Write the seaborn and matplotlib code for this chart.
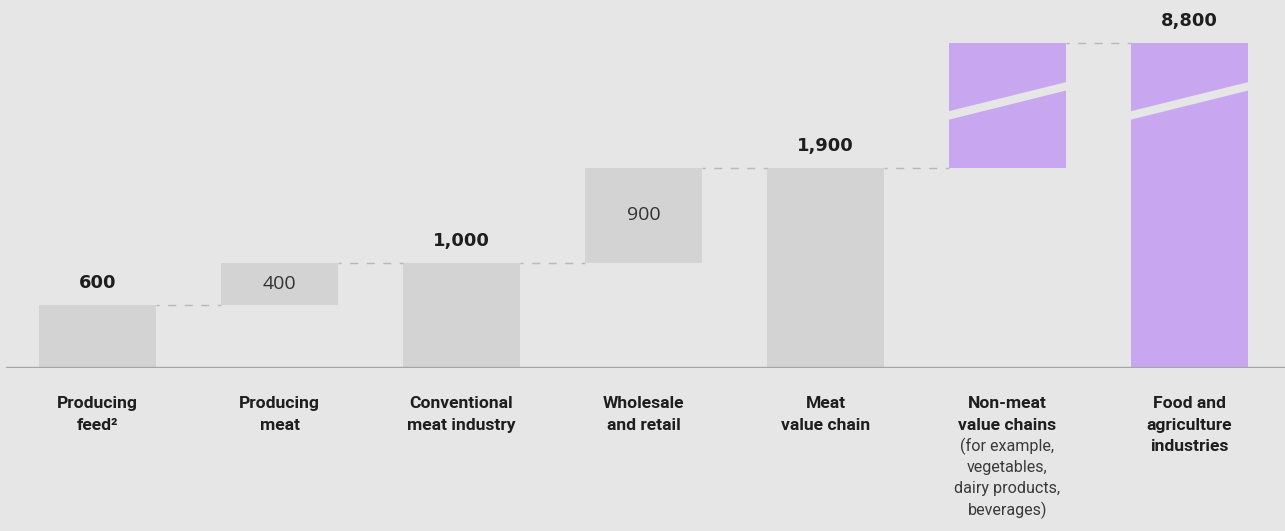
import numpy as np
import matplotlib
matplotlib.use("Agg")
import matplotlib.pyplot as plt
import seaborn as sns

# ---- data -------------------------------------------------------------
categories = [
    "Producing\nfeed²",
    "Producing\nmeat",
    "Conventional\nmeat industry",
    "Wholesale\nand retail",
    "Meat\nvalue chain",
    "Non-meat\nvalue chains",
    "Food and\nagriculture\nindustries",
]
values = [600, 400, 1000, 900, 1900, 6900, 8800]
is_total = [True, False, True, False, True, False, True]
value_labels = ["600", "400", "1,000", "900", "1,900", "", "8,800"]
sub_labels = ["", "", "", "", "", "(for example,\nvegetables,\ndairy products,\nbeverages)", ""]
highlight = [False, False, False, False, False, True, True]

# ---- style ------------------------------------------------------------
BG = "#e6e6e6"
GREY_BAR = "#d3d3d3"
PURPLE = "#c9a7f0"
BASE_LINE = "#a6a6a6"
DASH = "#b8b8b8"
TEXT = "#1e1e1e"

sns.set_theme(style="white")
plt.rcParams["font.family"] = ["DejaVu Sans"]

# waterfall bottoms
bottoms = []
running = 0
for v, tot in zip(values, is_total):
    if tot:
        bottoms.append(0)
        running = v
    else:
        bottoms.append(running)
        running += v
tops = [b + v for b, v in zip(bottoms, values)]

# broken value axis: linear up to T, compressed above
T = 2000.0
K = 0.159


def fwd(y):
    y = np.asarray(y, dtype=float)
    return np.where(y <= T, y, T + (y - T) * K)


def inv(d):
    d = np.asarray(d, dtype=float)
    return np.where(d <= T, d, T + (d - T) / K)


fig = plt.figure(figsize=(12.85, 5.31), dpi=100, facecolor=BG)
ax = fig.add_axes([6 / 1285, 163 / 531, 1279 / 1285, 348 / 531])
ax.set_facecolor(BG)

width = 0.643
sns.barplot(x=categories, y=values, bottom=bottoms, width=width,
            color=GREY_BAR, errorbar=None, ax=ax, linewidth=0,
            saturation=1)
for patch, hl in zip(ax.patches, highlight):
    patch.set_facecolor(PURPLE if hl else GREY_BAR)
    patch.set_edgecolor("none")

ax.set_yscale("function", functions=(fwd, inv))
ax.set_ylim(0, inv(3300))
ax.set_xlim(-0.503, 6.525)

# baseline
ax.axhline(0, color=BASE_LINE, lw=1.7, zorder=3)

# dashed connectors between neighbouring bars
for i in range(len(values) - 1):
    level = tops[i]
    ax.plot([i + width / 2, i + 1 - width / 2], [level, level],
            color=DASH, lw=1.0, linestyle=(3.5, (5.8, 6.1)), zorder=1)

# slanted break across the tall bars
d_lo_left, d_lo_right, gap = 2351, 2635, 80
for i, hl in enumerate(highlight):
    if not hl:
        continue
    x0, x1 = i - width / 2 - 0.01, i + width / 2 + 0.01
    poly = np.array([
        [x0, inv(d_lo_left)],
        [x1, inv(d_lo_right)],
        [x1, inv(d_lo_right + gap)],
        [x0, inv(d_lo_left + gap)],
    ])
    ax.fill(poly[:, 0], poly[:, 1], color=BG, lw=0, zorder=2)

# value labels
for i, (lab, tot) in enumerate(zip(value_labels, is_total)):
    if not lab:
        continue
    if tot:
        ax.annotate(lab, (i, tops[i]), xytext=(0, 15.8), textcoords="offset points",
                    ha="center", va="center", fontsize=12.9, fontweight="bold",
                    color=TEXT)
    else:
        mid = inv((fwd(bottoms[i]) + fwd(tops[i])) / 2)
        ax.annotate(lab, (i, mid), ha="center", va="center", fontsize=14,
                    family=["Open Sans", "DejaVu Sans"], color="#333333")

# category labels, one line at a time
PITCH = 15.3
for i, (cat, sub) in enumerate(zip(categories, sub_labels)):
    lines = cat.split("\n")
    for j, line in enumerate(lines):
        ax.annotate(line, (i, 0), xytext=(0, -25.9 - j * PITCH),
                    textcoords="offset points", ha="center", va="center",
                    fontsize=12.6, fontweight="bold",
                    family=["Roboto", "DejaVu Sans"], color=TEXT,
                    annotation_clip=False)
    if sub:
        for k, line in enumerate(sub.split("\n")):
            ax.annotate(line, (i, 0), xytext=(0, -25.9 - (len(lines) + k) * PITCH),
                        textcoords="offset points", ha="center", va="center",
                        fontsize=11.6, fontweight="normal",
                        family=["Roboto", "DejaVu Sans"], color="#3a3a3a",
                        annotation_clip=False)

ax.set_xticks([])
ax.set_yticks([])
ax.set_xlabel("")
ax.set_ylabel("")
sns.despine(ax=ax, left=True, bottom=True)

fig.savefig("out.png", dpi=100, facecolor=BG)
